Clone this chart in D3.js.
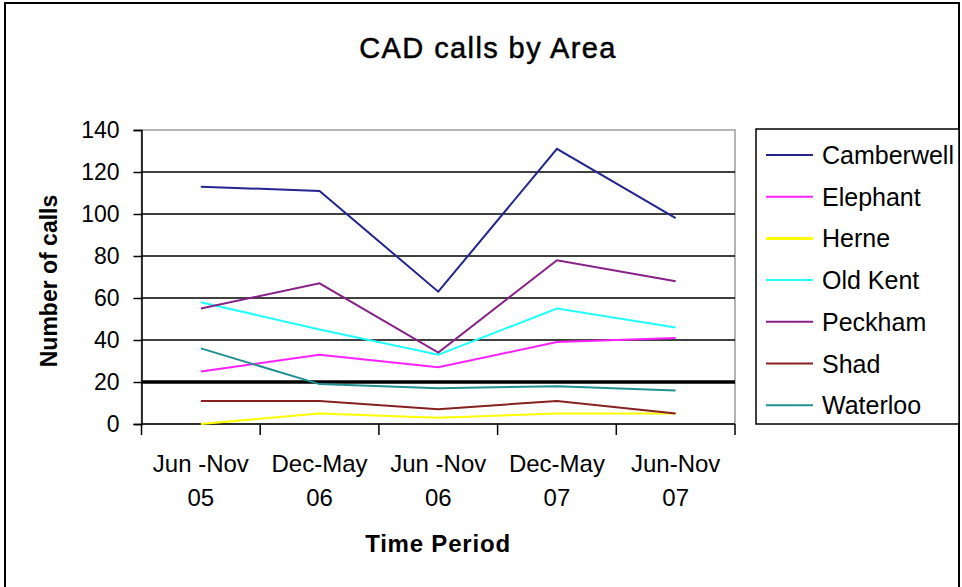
<!DOCTYPE html>
<html>
<head>
<meta charset="utf-8">
<script src="https://cdn.jsdelivr.net/npm/d3@7"></script>
<style>
  html, body { margin: 0; padding: 0; background: #fff; }
  svg { display: block; font-family: "Liberation Sans", Arial, sans-serif; }
</style>
</head>
<body>
<svg id="chart" width="962" height="587"></svg>
<script>
// ---- data ----
const categories = ["Jun -Nov 05", "Dec-May 06", "Jun -Nov 06", "Dec-May 07", "Jun-Nov 07"];
const categoryLines = [["Jun -Nov", "05"], ["Dec-May", "06"], ["Jun -Nov", "06"], ["Dec-May", "07"], ["Jun-Nov", "07"]];
const seriesNames = ["Camberwell", "Elephant", "Herne", "Old Kent", "Peckham", "Shad", "Waterloo"];
const camberwell = [113, 111, 63, 131, 98];
const elephant   = [25, 33, 27, 39, 41];
const herne      = [0, 5, 3, 5, 5];
const oldKent    = [58, 45, 33, 55, 46];
const peckham    = [55, 67, 34, 78, 68];
const shad       = [11, 11, 7, 11, 5];
const waterloo   = [36, 19, 17, 18, 16];
const yTicks     = [0, 20, 40, 60, 80, 100, 120, 140];
const seriesValues = [camberwell, elephant, herne, oldKent, peckham, shad, waterloo];
const seriesColors = ["#24248f", "#ff20ff", "#ffff00", "#20ffff", "#882088", "#882020", "#209090"];

// ---- layout ----
const svg = d3.select("#chart");
const plot = { left: 141.5, right: 735, top: 130, bottom: 424 };

const x = d3.scaleBand().domain(categories).range([plot.left, plot.right]).paddingInner(0).paddingOuter(0);
const xc = c => x(c) + x.bandwidth() / 2;
const y = d3.scaleLinear().domain([0, 140]).range([plot.bottom, plot.top]);

// outer border
svg.append("rect").attr("x", 5).attr("y", 3).attr("width", 954).attr("height", 640)
  .attr("fill", "#fff").attr("stroke", "#000").attr("stroke-width", 2);

// title
svg.append("text").attr("x", 488).attr("y", 58).attr("text-anchor", "middle")
  .attr("font-size", 29).attr("letter-spacing", 1.4)
  .attr("stroke", "#000").attr("stroke-width", 0.5).text("CAD calls by Area");

// plot border (gray)
svg.append("rect").attr("x", plot.left).attr("y", plot.top)
  .attr("width", plot.right - plot.left).attr("height", plot.bottom - plot.top)
  .attr("fill", "none").attr("stroke", "#9a9a9a").attr("stroke-width", 1.5);

// gridlines
svg.append("g").selectAll("line").data(yTicks.filter(t => t > 0 && t < 140)).join("line")
  .attr("x1", plot.left).attr("x2", plot.right)
  .attr("y1", d => y(d)).attr("y2", d => y(d))
  .attr("stroke", "#000").attr("stroke-width", d => d === 20 ? 3.5 : 1.5);

// y axis
const yAxis = d3.axisLeft(y).tickValues(yTicks).tickSize(8).tickPadding(14).tickFormat(d3.format("d"));
const gy = svg.append("g").attr("transform", `translate(${plot.left},0)`).call(yAxis);
gy.select(".domain").attr("stroke", "#000").attr("stroke-width", 1.5);
gy.selectAll(".tick line").attr("stroke", "#000").attr("stroke-width", 1.5);
gy.selectAll(".tick text").attr("font-size", 23).attr("fill", "#000")
  .attr("font-family", "Liberation Sans, Arial, sans-serif");

// x axis (ticks at category boundaries)
const xAxisG = svg.append("g");
xAxisG.append("line").attr("x1", plot.left).attr("x2", plot.right)
  .attr("y1", plot.bottom).attr("y2", plot.bottom).attr("stroke", "#000").attr("stroke-width", 1.5);
const boundaries = categories.map(c => x(c)).concat([x(categories[categories.length - 1]) + x.bandwidth()]);
xAxisG.selectAll("line.tk").data(boundaries).join("line").attr("class", "tk")
  .attr("x1", d => d).attr("x2", d => d).attr("y1", plot.bottom).attr("y2", plot.bottom + 11)
  .attr("stroke", "#000").attr("stroke-width", 1.5);

const xl = svg.append("g").selectAll("text").data(categories).join("text")
  .attr("text-anchor", "middle").attr("font-size", 24);
xl.each(function(c, i) {
  const t = d3.select(this);
  t.append("tspan").attr("x", xc(c)).attr("y", 472).text(categoryLines[i][0]);
  t.append("tspan").attr("x", xc(c)).attr("y", 506).text(categoryLines[i][1]);
});

// axis titles
svg.append("text").attr("x", 438).attr("y", 552).attr("text-anchor", "middle")
  .attr("font-size", 24).attr("font-weight", "bold").attr("letter-spacing", 0.8).text("Time Period");
svg.append("text").attr("transform", "translate(57,281) rotate(-90)").attr("text-anchor", "middle")
  .attr("font-size", 23).attr("font-weight", "bold").text("Number of calls");

// lines
const line = d3.line().x((d, i) => xc(categories[i])).y(d => y(d));
svg.append("g").selectAll("path").data(seriesValues).join("path")
  .attr("d", d => line(d)).attr("fill", "none")
  .attr("stroke", (d, i) => seriesColors[i]).attr("stroke-width", 2);

// legend
const lg = svg.append("g");
lg.append("rect").attr("x", 756).attr("y", 129).attr("width", 203).attr("height", 295)
  .attr("fill", "#fff").attr("stroke", "#000").attr("stroke-width", 1.5);
const rowY = i => 155 + i * 41.7;
lg.selectAll("line").data(seriesNames).join("line")
  .attr("x1", 766).attr("x2", 813).attr("y1", (d, i) => rowY(i)).attr("y2", (d, i) => rowY(i))
  .attr("stroke", (d, i) => seriesColors[i]).attr("stroke-width", (d, i) => i === 2 ? 3 : 2);
lg.selectAll("text").data(seriesNames).join("text")
  .attr("x", 822).attr("y", (d, i) => rowY(i) + 9).attr("font-size", 25).text(d => d);
</script>
</body>
</html>
